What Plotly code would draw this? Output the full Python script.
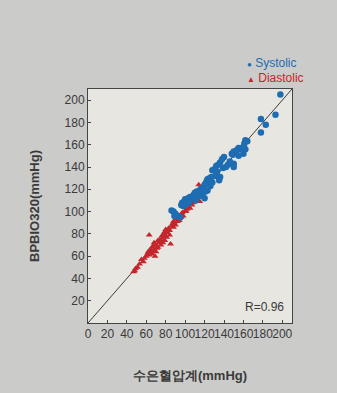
import plotly.graph_objects as go

# Systolic: reference device (mercury) vs BPBIO320
sys_x = [198,193,183,178,178,164,162,161,160,158,156,155,153,152,150,149,148,155,162,160,
         150,146,140,138,136,134,132,130,133,128,136,135,131,127,125,123,122,121,120,119,
         117,116,115,114,113,112,111,110,109,108,107,106,105,104,103,102,100,99,98,97,
         96,98,100,120,118,113,110,123,126,128,139,142,144,88,86,90,92,89,95,104,111,115,121,150]
sys_y = [205,187,178,183,171,163,164,161,158,157,156,157,155,153,154,151,152,150,156,152,
         143,145,149,147,144,142,141,138,136,137,131,128,132,131,130,129,127,125,124,122,
         121,120,119,118,117,118,116,117,115,114,113,112,113,111,112,110,111,109,108,108,
         106,105,106,112,116,114,112,119,123,126,139,140,142,100,101,98,96,96,95,108,110,114,118,140]

dia_x = [47,48,49,51,53,55,57,58,60,61,62,63,63,64,65,66,67,68,68,69,70,71,72,73,74,75,76,77,78,79,
         80,80,81,82,83,84,85,86,87,88,89,90,91,92,93,94,95,96,97,98,100,101,102,104,105,107,108,110,
         112,114,115,111,66,70,75,79,84,88,72,77]
dia_y = [46,47,49,50,53,57,55,58,60,62,64,79,61,66,64,68,69,65,72,60,70,67,74,72,75,70,78,76,80,82,
         84,78,77,81,85,83,71,87,89,86,90,88,93,91,94,92,97,95,99,96,101,100,102,104,103,106,108,109,
         110,124,109,113,62,64,73,74,79,91,68,72]

x_ticks = [0,20,40,60,80,100,120,140,160,180,200]
y_ticks = [20,40,60,80,100,120,140,160,180,200]
axis_max = 210

BLUE = "#1e6db3"
RED = "#c4262c"
TXT = "#3a3a3a"
FONT = "Liberation Sans, Arial, sans-serif"

fig = go.Figure()
fig.add_trace(go.Scatter(x=[0, axis_max], y=[0, axis_max], mode="lines",
                         line=dict(color="#3c3c3c", width=1), showlegend=False, hoverinfo="skip"))
fig.add_trace(go.Scatter(x=dia_x, y=dia_y, mode="markers", name="Diastolic",
                         marker=dict(symbol="triangle-up", size=6, color=RED)))
fig.add_trace(go.Scatter(x=sys_x, y=sys_y, mode="markers", name="Systolic",
                         marker=dict(symbol="circle", size=6.5, color=BLUE)))

fig.update_layout(
    width=337, height=393,
    margin=dict(l=88, r=45, t=89, b=70),
    paper_bgcolor="#cbcbc9",
    plot_bgcolor="#e7e6e1",
    showlegend=False,
    font=dict(family=FONT, color=TXT, size=12),
    xaxis=dict(range=[0, axis_max], tickvals=x_ticks, ticks="inside", ticklen=3, tickangle=0,
               tickcolor="#444", showgrid=False, zeroline=False, showline=True,
               linecolor="#444", linewidth=1, mirror=True, automargin=False,
               tickfont=dict(size=12, color=TXT),
               title=dict(text="<b>수은혈압계(mmHg)</b>", font=dict(size=13, color=TXT), standoff=30)),
    yaxis=dict(range=[0, axis_max], tickvals=y_ticks, ticks="inside", ticklen=3,
               tickcolor="#444", showgrid=False, zeroline=False, showline=True,
               linecolor="#444", linewidth=1, mirror=True, automargin=False,
               tickfont=dict(size=12, color=TXT),
               title=dict(text="<b>BPBIO320(mmHg)</b>", font=dict(size=13, color=TXT), standoff=22)),
    annotations=[
        dict(text="<span style='font-size:8px'>●</span> Systolic", x=0.77, y=1.0, xref="paper", yref="paper",
             xanchor="left", yanchor="bottom", yshift=17, showarrow=False,
             font=dict(size=12, color=BLUE, family=FONT)),
        dict(text="<span style='font-size:8px'>▲</span> Diastolic", x=0.77, y=1.0, xref="paper", yref="paper",
             xanchor="left", yanchor="bottom", yshift=2, showarrow=False,
             font=dict(size=12, color=RED, family=FONT)),
        dict(text="R=0.96", x=0.97, y=0.03, xref="paper", yref="paper",
             xanchor="right", yanchor="bottom", showarrow=False,
             font=dict(size=12, color=TXT, family=FONT)),
    ],
)

fig.write_html("out.html", config={"displayModeBar": False},
               post_script="document.body.style.margin='0';document.body.style.padding='0';")
